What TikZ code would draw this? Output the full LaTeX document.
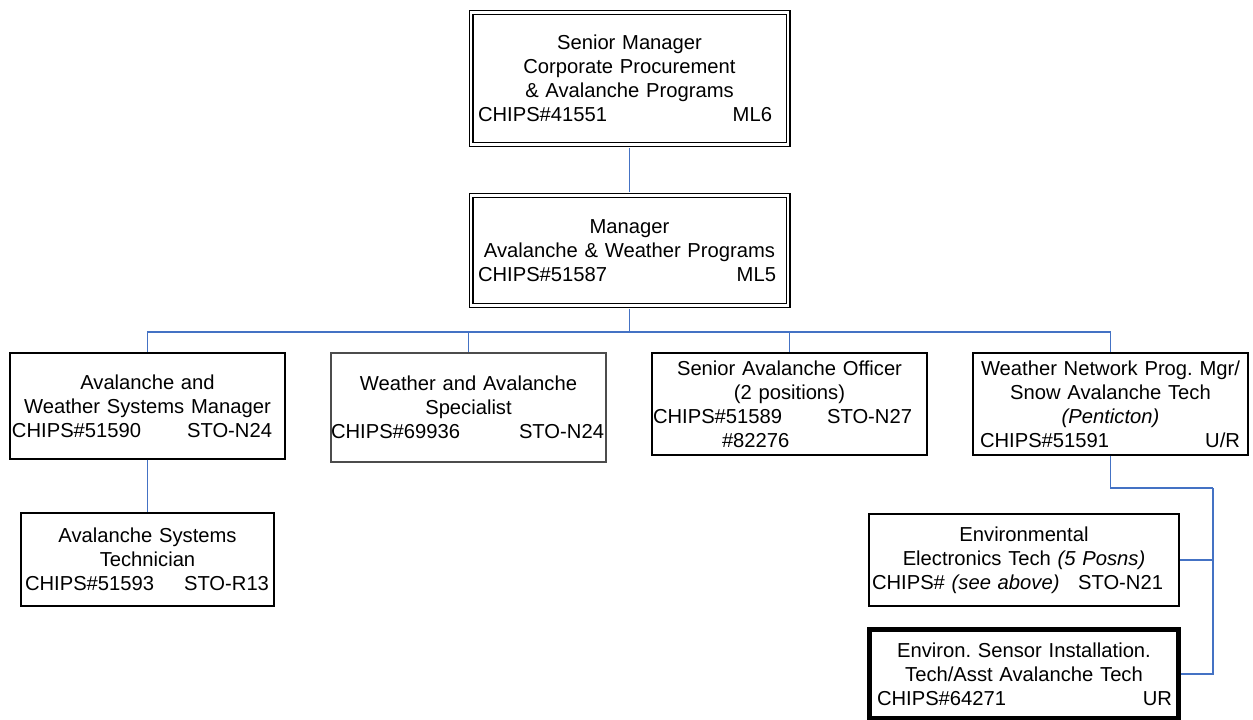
\documentclass[tikz,border=0pt]{standalone}
\usepackage{fontspec}
\setmainfont{Liberation Sans}
\usepackage{tikz}
\definecolor{linkblue}{HTML}{4472C4}
\newcommand\chipsrow[4]{\makebox[\hsize]{\hspace*{#1}#2\hfill#3\hspace*{#4}}}

\begin{document}
\frenchspacing
\begin{tikzpicture}[x=0.5pt, y=-0.5pt,
    box/.style={draw, line width=0.6pt, inner sep=0pt, align=center,
      font=\fontsize{10.1}{12}\selectfont},
    dbox/.style={box, double, double distance=1.3pt},
    heavybox/.style={box, line width=2.5pt},
    link/.style={draw=linkblue, line width=0.65pt}]
  \useasboundingbox (0,0) rectangle (1253,719);
  % top two levels
  \node [dbox, text width=158.5pt, minimum height=66pt] (srmgr) at
  (629.5,78.5) {Senior Manager\\Corporate Procurement\\\& Avalanche
    Programs\\\chipsrow{3.5pt}{CHIPS\#41551}{ML6}{8pt}}; \node [dbox,
  text width=158.5pt, minimum height=55pt] (mgr) at (629.5,250.5)
  {Manager\\Avalanche \& Weather
    Programs\\\chipsrow{3.5pt}{CHIPS\#51587}{ML5}{6pt}};
  % third level
  \node [box, text width=137.5pt, minimum height=53pt] (awsm) at
  (147.5,406) {Avalanche and\\Weather Systems
    Manager\\\chipsrow{1pt}{CHIPS\#51590}{STO-N24}{6.5pt}}; \node [box,
  draw=black!70, text width=137.5pt, minimum height=54.5pt] (was) at
  (468.5,407.5) {Weather and
    Avalanche\\Specialist\\\chipsrow{0pt}{CHIPS\#69936}{STO-N24}{1pt}};
  \node [box, text width=137.5pt, minimum height=51pt] (sao) at
  (789.5,404) {Senior Avalanche Officer\\(2
    positions)\\\chipsrow{0.5pt}{CHIPS\#51589}{STO-N27}{7.5pt}\\
    \makebox[\hsize][l]{\hspace*{35pt}\#82276}}; \node [box, text
  width=137.5pt, minimum height=51pt] (wnpm) at (1110.5,404) {Weather
    Network Prog. Mgr/\\Snow Avalanche
    Tech\\\textit{(Penticton)}\\\chipsrow{3.5pt}{CHIPS\#51591}{U/R}{4pt}};
  % lower level
  \node [box, text width=126.5pt, minimum height=46.5pt] (ast) at
  (147.5,559.5) {Avalanche
    Systems\\Technician\\\chipsrow{2pt}{CHIPS\#51593}{STO-R13}{2.5pt}};
  \node [box, text width=155pt, minimum height=46pt] (eet) at
  (1024,560) {Environmental\\Electronics Tech \textit{(5
      Posns)}\\\chipsrow{1.5pt}{CHIPS\# \textit{(see
        above)}}{STO-N21}{8pt}}; \node [heavybox, text width=154.5pt,
  minimum height=44.5pt] (esit) at (1024,674) {Environ. Sensor
    Installation.\\Tech/Asst Avalanche
    Tech\\\chipsrow{3.75pt}{CHIPS\#64271}{UR}{3.25pt}};
  % connectors
  \coordinate (bus) at (629.5,332); \coordinate (turn) at (1213,488);
  \draw [link, shorten <=1.3pt, shorten >=1.3pt] (srmgr.south) --
  (mgr.north); \draw [link, shorten <=1.3pt] (mgr.south) -- (bus);
  \draw [link] (bus) -| (awsm.north); \draw [link] (bus) -|
  (was.north); \draw [link] (bus) -| (sao.north); \draw [link] (bus)
  -| (wnpm.north); \draw [link] (awsm.south) -- (ast.north); \draw
  [link] (wnpm.south) |- (turn); \draw [link] (turn) |- (esit.east);
  \draw [link] (turn |- eet.east) -- (eet.east);
\end{tikzpicture}
\end{document}
